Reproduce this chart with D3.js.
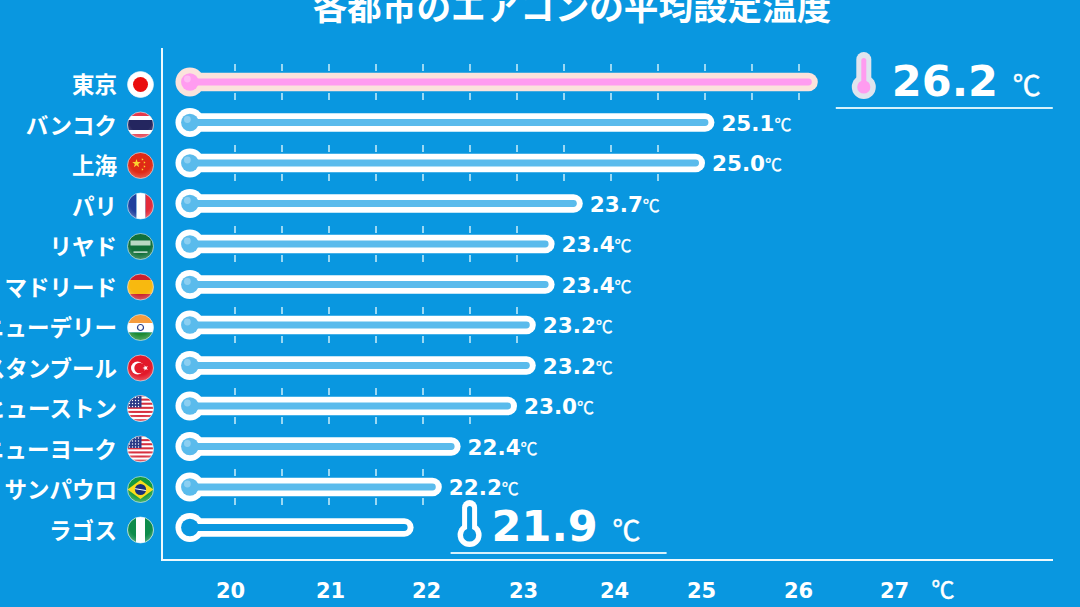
<!DOCTYPE html>
<html>
<head>
<meta charset="utf-8">
<script src="https://cdn.jsdelivr.net/npm/d3@7"></script>
<style>
html, body { margin: 0; padding: 0; background: #0997e0; overflow: hidden; }
svg { display: block; }
text { fill: #fff; }
.ja { font-family: "Noto Sans CJK JP", sans-serif; }
.num { font-family: "DejaVu Sans", sans-serif; font-weight: bold; }
</style>
</head>
<body>
<div id="chart"></div>
<script>
// data
var cities = ["東京", "バンコク", "上海", "パリ", "リヤド", "マドリード", "ニューデリー", "イスタンブール", "ヒューストン", "ニューヨーク", "サンパウロ", "ラゴス"];
var flags = ["jp", "th", "cn", "fr", "sa", "es", "in", "tr", "us", "us", "br", "ng"];
var temps = [26.2, 25.1, 25.0, 23.7, 23.4, 23.4, 23.2, 23.2, 23.0, 22.4, 22.2, 21.9];
var axisLabels = [20, 21, 22, 23, 24, 25, 26, 27];
var smallTicks = [20, 20.5, 21, 21.5, 22, 22.5, 23, 23.5, 24, 24.5, 25, 25.5, 26];

var width = 1080, height = 607;
var bg = "#0997e0";

var svg = d3.select("#chart").append("svg")
    .attr("width", width)
    .attr("height", height);

var defs = svg.append("defs");

var gloss = defs.append("radialGradient").attr("id", "gloss")
    .attr("cx", 0.5).attr("cy", 0.35).attr("r", 0.7);
gloss.append("stop").attr("offset", "0.6").attr("stop-color", "#fff").attr("stop-opacity", 0);
gloss.append("stop").attr("offset", "1").attr("stop-color", "#fff").attr("stop-opacity", 0.3);

var x = d3.scaleLinear().domain([20, 27]).range([235, 893]);
var y = d3.scalePoint().domain(d3.range(cities.length)).range([82, 527.5]);

var bulbX = x(19.52);
var hottest = d3.max(temps), coolest = d3.min(temps);

// title
svg.append("text").attr("class", "ja")
    .attr("x", 572).attr("y", 20)
    .attr("text-anchor", "middle")
    .attr("font-size", 34.6)
    .attr("font-weight", "bold")
    .text("各都市のエアコンの平均設定温度");

// axis lines
svg.append("line").attr("x1", 162).attr("x2", 162).attr("y1", 48).attr("y2", 561)
    .attr("stroke", "#eef9fd").attr("stroke-width", 2);
svg.append("line").attr("x1", 161).attr("x2", 1053).attr("y1", 560).attr("y2", 560)
    .attr("stroke", "#eef9fd").attr("stroke-width", 2);

// small ticks, above and below every other bar, only as far as the bar goes
var tickRows = svg.append("g").selectAll("g")
    .data(d3.range(0, cities.length - 1, 2))
    .enter().append("g")
    .attr("transform", function(i) { return "translate(0," + y(i) + ")"; });

[-18, 11].forEach(function(top) {
    tickRows.selectAll(null)
        .data(function(i) { return smallTicks.filter(function(t) { return t < temps[i]; }); })
        .enter().append("line")
        .attr("x1", function(d) { return x(d); })
        .attr("x2", function(d) { return x(d); })
        .attr("y1", top)
        .attr("y2", top + 7)
        .attr("stroke", "#cdeefa")
        .attr("stroke-width", 1.5);
});

// bottom axis
var xAxis = d3.axisBottom(x).tickValues(axisLabels).tickFormat(d3.format("d")).tickSize(0).tickPadding(0);
var tickNudge = [-5, 1, 3, 6, 3, -4, -1, 1];
var axisG = svg.append("g").attr("transform", "translate(0,583)").call(xAxis);
axisG.select(".domain").remove();
axisG.selectAll("text")
    .attr("class", "num")
    .attr("font-size", 21)
    .attr("dx", function(d, i) { return tickNudge[i]; })
    .attr("dy", 15)
    .style("fill", "#fff")
    .style("font-family", "DejaVu Sans")
    .style("font-weight", "bold");

svg.append("text").attr("class", "ja")
    .attr("x", 943).attr("y", 598)
    .attr("text-anchor", "middle")
    .attr("font-size", 23)
    .attr("stroke", "#fff")
    .attr("stroke-width", 0.5)
    .text("℃");

// thermometer bars
var rows = svg.append("g").selectAll("g")
    .data(temps)
    .enter().append("g")
    .attr("transform", function(d, i) { return "translate(0," + y(i) + ")"; });

var outerColor = function(d) { return d === hottest ? "#fbe3dc" : "#fff"; };
var innerColor = function(d) {
    if (d === hottest) return "#ff9cf0";
    if (d === coolest) return bg;
    return "#5abbec";
};

rows.append("rect")
    .attr("x", bulbX)
    .attr("y", -9.3)
    .attr("width", function(d) { return x(d) - bulbX; })
    .attr("height", 18.6)
    .attr("rx", 9.3)
    .attr("fill", outerColor);
rows.append("circle")
    .attr("cx", bulbX)
    .attr("r", 14.4)
    .attr("fill", outerColor);
rows.append("rect")
    .attr("x", bulbX)
    .attr("y", -3.4)
    .attr("width", function(d) { return x(d) - bulbX - 6; })
    .attr("height", 6.8)
    .attr("rx", 3.4)
    .attr("fill", innerColor);
rows.append("circle")
    .attr("cx", bulbX)
    .attr("r", 8.8)
    .attr("fill", innerColor);
rows.append("circle")
    .attr("cx", bulbX - 2.5)
    .attr("cy", -3)
    .attr("r", 3.4)
    .attr("fill", "#fff")
    .attr("fill-opacity", function(d) { return d === coolest ? 0 : 0.3; });

// city names
svg.append("g").selectAll("text")
    .data(cities)
    .enter().append("text")
    .attr("class", "ja")
    .attr("x", 117)
    .attr("y", function(d, i) { return y(i) + 11; })
    .attr("text-anchor", "end")
    .attr("font-size", 22.5)
    .attr("font-weight", "bold")
    .text(function(d) { return d; });

// value labels, the hottest and coolest get the big ones below
var plain = rows.filter(function(d) { return d !== hottest && d !== coolest; });
plain.append("text").attr("class", "num")
    .attr("x", function(d) { return x(d) + 7; })
    .attr("y", 8)
    .attr("font-size", 21.5)
    .text(function(d) { return d.toFixed(1); });
plain.append("text").attr("class", "ja")
    .attr("x", function(d) { return x(d) + 60; })
    .attr("y", 8)
    .attr("font-size", 17)
    .attr("stroke", "#fff")
    .attr("stroke-width", 0.3)
    .text("℃");

function callout(value, dx, baseline, line, icon, outer, inner) {
    var left = x(value) + dx;
    var g = svg.append("g").attr("transform", "translate(" + left + "," + baseline + ")");
    g.append("text").attr("class", "num")
        .attr("font-size", 43)
        .text(value.toFixed(1));
    g.append("text").attr("class", "ja")
        .attr("x", 121)
        .attr("font-size", 28)
        .attr("stroke", "#fff")
        .attr("stroke-width", 0.5)
        .text("℃");
    g.append("line")
        .attr("x1", line[0]).attr("x2", line[1])
        .attr("y1", 12).attr("y2", 12)
        .attr("stroke", "#d6f1fb").attr("stroke-width", 1.8);
    // thermometer icon
    var t = g.append("g").attr("transform", "translate(" + icon[0] + "," + icon[1] + ")");
    t.append("rect").attr("x", -7.5).attr("y", -47).attr("width", 15).attr("height", 40).attr("rx", 7.5).attr("fill", outer);
    t.append("circle").attr("cy", -12).attr("r", 12).attr("fill", outer);
    t.append("rect").attr("x", -2.5).attr("y", -41).attr("width", 5).attr("height", 30).attr("rx", 2.5).attr("fill", inner);
    t.append("circle").attr("cy", -12).attr("r", 6.6).attr("fill", inner);
}
callout(hottest, 74, 96, [-56, 161], [-28, 3], "#dfe4ee", "#ff9cf0");
callout(coolest, 78, 541, [-41, 175], [-22, 6], "#fff", bg);

// flags
function star(cx, cy, r, rot) {
    var pts = d3.range(10).map(function(k) {
        var a = rot + k * Math.PI / 5, rr = k % 2 ? r * 0.4 : r;
        return [cx + rr * Math.sin(a), cy - rr * Math.cos(a)].join(",");
    });
    return pts.join(" ");
}

function band(g, x0, y0, w, h, c) {
    g.append("rect").attr("x", x0).attr("y", y0).attr("width", w).attr("height", h).attr("fill", c);
}

var drawFlag = {
    jp: function(g) {
        band(g, -14, -14, 28, 28, "#fff");
        g.append("circle").attr("r", 7.5).attr("fill", "#ea0d0d");
    },
    th: function(g) {
        band(g, -14, -14, 28, 28, "#e5394a");
        band(g, -14, -9, 28, 18, "#fff");
        band(g, -14, -5, 28, 10, "#24265f");
    },
    cn: function(g) {
        band(g, -14, -14, 28, 28, "#df2a16");
        g.append("polygon").attr("points", star(-4, -2, 4.5, 0)).attr("fill", "#fbd330");
        [[2, -6], [4, -3], [4, 1], [2, 4]].forEach(function(p) {
            g.append("polygon").attr("points", star(p[0], p[1], 1.4, 0.4)).attr("fill", "#fbd330");
        });
    },
    fr: function(g) {
        band(g, -14, -14, 10, 28, "#1e3f9e");
        band(g, -4, -14, 9, 28, "#fff");
        band(g, 5, -14, 9, 28, "#e42a3a");
    },
    sa: function(g) {
        band(g, -14, -14, 28, 28, "#11703a");
        band(g, -10, -6, 20, 5, "#b9d8c4");
        band(g, -7, 5, 14, 1.2, "#fff");
    },
    es: function(g) {
        band(g, -14, -14, 28, 28, "#c9202c");
        band(g, -14, -7, 28, 14, "#f8b90f");
    },
    "in": function(g) {
        band(g, -14, -14, 28, 9.5, "#f59b3d");
        band(g, -14, -4.5, 28, 9.5, "#fff");
        band(g, -14, 5, 28, 9, "#1c8a32");
        g.append("circle").attr("r", 3).attr("fill", "none").attr("stroke", "#2a3f8c").attr("stroke-width", 1.2);
    },
    tr: function(g) {
        band(g, -14, -14, 28, 28, "#e21a2a");
        g.append("circle").attr("cx", -3).attr("r", 6.5).attr("fill", "#fff");
        g.append("circle").attr("cx", -1).attr("r", 5.2).attr("fill", "#e21a2a");
        g.append("polygon").attr("points", star(5, 0, 3, -0.3)).attr("fill", "#fff");
    },
    us: function(g) {
        band(g, -14, -14, 28, 28, "#fff");
        d3.range(7).forEach(function(k) { band(g, -14, -14 + k * 4.1, 28, 2.05, "#d8303f"); });
        band(g, -14, -14, 15, 13, "#2b3a86");
        d3.range(-11, 0, 3).forEach(function(a) {
            d3.range(-11, -1, 3).forEach(function(b) {
                g.append("circle").attr("cx", a).attr("cy", b).attr("r", 0.7).attr("fill", "#fff");
            });
        });
    },
    br: function(g) {
        band(g, -14, -14, 28, 28, "#149a3c");
        g.append("polygon").attr("points", "-13,0 0,-9.5 13,0 0,9.5").attr("fill", "#fbdc1c");
        g.append("circle").attr("r", 5.6).attr("fill", "#1c2f78");
        g.append("line").attr("x1", -5.4).attr("x2", 5.4).attr("y1", -0.8).attr("y2", 1)
            .attr("stroke", "#fff").attr("stroke-width", 1);
    },
    ng: function(g) {
        band(g, -14, -14, 28, 28, "#fff");
        band(g, -14, -14, 9.5, 28, "#0e8c4b");
        band(g, 4.5, -14, 9.5, 28, "#0e8c4b");
    }
};

defs.append("clipPath").attr("id", "flagClip").append("circle").attr("r", 13);

var flagG = svg.append("g").selectAll("g")
    .data(flags)
    .enter().append("g")
    .attr("transform", function(d, i) { return "translate(140.5," + (y(i) + 2.5) + ")"; });

flagG.append("g")
    .attr("clip-path", "url(#flagClip)")
    .each(function(d) { drawFlag[d](d3.select(this)); });
flagG.append("circle").attr("r", 13).attr("fill", "url(#gloss)");
flagG.append("circle").attr("r", 13)
    .attr("fill", "none")
    .attr("stroke", "#e6f6fc")
    .attr("stroke-width", 0.6);
</script>
</body>
</html>
